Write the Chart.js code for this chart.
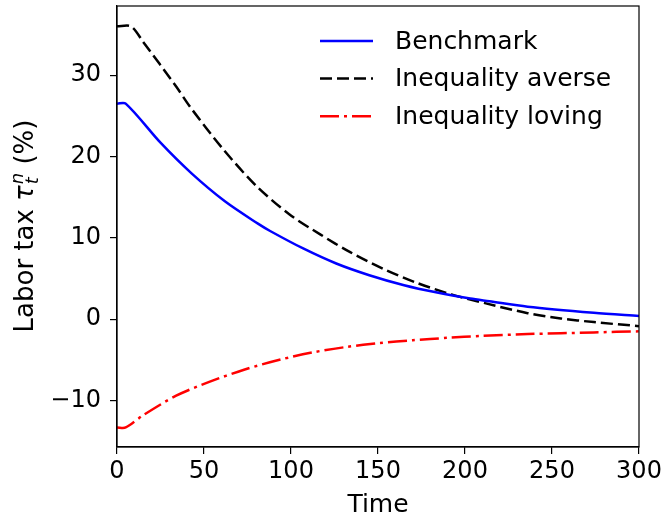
<!DOCTYPE html>
<html>
<head>
<meta charset="utf-8">
<script src="https://cdn.jsdelivr.net/npm/chart.js@4.4.1/dist/chart.umd.min.js"></script>
<style>
    html, body { margin: 0; padding: 0; background: #fff; }
</style>
</head>
<body>
<canvas id="taxChart" width="666" height="520"></canvas>
<script>
// Values
const benchTime = [0, 5, 25, 43, 62, 81, 88, 107, 126, 145, 165, 184, 203, 214, 236, 274, 300];
const benchTax  = [26.5, 26.5, 21.7, 17.9, 14.5, 11.75, 10.85, 8.7, 6.85, 5.41, 4.18, 3.28, 2.54, 2.21, 1.55, 0.8, 0.4];

const averseTime = [0, 8, 15, 34, 42, 61, 80, 99, 117, 134, 153, 172, 193, 212, 236, 255, 274, 300];
const averseTax  = [36, 36, 34.1, 28.6, 26.1, 20.9, 16.4, 12.9, 10.4, 8.25, 6.2, 4.5, 3.0, 1.95, 0.75, 0.1, -0.35, -0.85];

const lovingTime = [0, 5, 15, 34, 53, 73, 94, 113, 132, 151, 170, 190, 209, 236, 274, 300];
const lovingTax  = [-13.3, -13.3, -11.8, -9.4, -7.7, -6.2, -4.95, -4.05, -3.4, -2.92, -2.58, -2.28, -2.05, -1.82, -1.62, -1.48];

const seriesNames = ['Benchmark', 'Inequality averse', 'Inequality loving'];
const xTicks = [0, 50, 100, 150, 200, 250, 300];
const yTicks = [-10, 0, 10, 20, 30];

const FONT = 'DejaVu Sans';

function toPoints(xs, ys) {
    return xs.map((x, i) => ({ x: x, y: ys[i] }));
}

// Fixed box for each axis, no extra label padding
function fixBox(scale, w, h) {
    if (w !== null) scale.width = w;
    if (h !== null) scale.height = h;
    scale.paddingTop = 0;
    scale.paddingBottom = 0;
    scale.paddingLeft = 0;
    scale.paddingRight = 0;
}

// Top and right spines
const framePlugin = {
    id: 'frame',
    afterDraw(chart) {
        const { ctx, chartArea: a } = chart;
        ctx.save();
        ctx.strokeStyle = '#000';
        ctx.lineWidth = 1.2;
        ctx.strokeRect(a.left, a.top, a.right - a.left, a.bottom - a.top);
        ctx.restore();
    }
};

// Legend inside the plot, no frame
const legendPlugin = {
    id: 'innerLegend',
    afterDatasetsDraw(chart) {
        const ctx = chart.ctx;
        ctx.save();
        chart.data.datasets.forEach((ds, i) => {
            const y = 41 + i * 37.6;
            ctx.strokeStyle = ds.borderColor;
            ctx.lineWidth = ds.borderWidth;
            ctx.setLineDash(ds.borderDash || []);
            ctx.beginPath();
            ctx.moveTo(320, y);
            ctx.lineTo(373, y);
            ctx.stroke();
            ctx.setLineDash([]);
            ctx.fillStyle = '#000';
            ctx.font = '25px ' + FONT;
            ctx.textBaseline = 'middle';
            ctx.fillText(ds.label, 395, y + 1);
        });
        ctx.restore();
    }
};

// Y axis title with tau, subscript t and superscript n
const yTitlePlugin = {
    id: 'yTitle',
    afterDraw(chart) {
        const ctx = chart.ctx;
        const big = '26px ' + FONT;
        const bigIt = 'oblique 26px ' + FONT;
        const small = 'oblique 18px ' + FONT;
        ctx.save();
        ctx.font = big;
        const w1 = ctx.measureText('Labor tax ').width;
        const w3 = ctx.measureText(' (%)').width;
        ctx.font = bigIt;
        const wTau = ctx.measureText('\u03C4').width;
        ctx.font = small;
        const wScr = Math.max(ctx.measureText('t').width, ctx.measureText('n').width) + 1;
        const total = w1 + wTau + wScr + w3;

        ctx.translate(33, 226);
        ctx.rotate(-Math.PI / 2);
        ctx.fillStyle = '#000';
        ctx.textBaseline = 'alphabetic';
        let x = -total / 2;
        ctx.font = big;
        ctx.fillText('Labor tax ', x, 0);
        x += w1;
        ctx.font = bigIt;
        ctx.fillText('\u03C4', x, 0);
        x += wTau;
        ctx.font = small;
        ctx.fillText('n', x + 1, -10);
        ctx.fillText('t', x + 1, 5);
        x += wScr;
        ctx.font = big;
        ctx.fillText(' (%)', x, 0);
        ctx.restore();
    }
};

const lineStyles = [
    { color: '#0000ff', dash: [] },
    { color: '#000000', dash: [12, 5] },
    { color: '#ff0000', dash: [19, 5, 3, 5] }
];

const seriesData = [
    toPoints(benchTime, benchTax),
    toPoints(averseTime, averseTax),
    toPoints(lovingTime, lovingTax)
];

new Chart(document.getElementById('taxChart').getContext('2d'), {
    type: 'line',
    data: {
        datasets: seriesData.map((pts, i) => ({
            label: seriesNames[i],
            data: pts,
            borderColor: lineStyles[i].color,
            borderDash: lineStyles[i].dash,
            borderWidth: 2.5,
            pointRadius: 0,
            fill: false,
            tension: 0.3
        }))
    },
    options: {
        responsive: false,
        animation: false,
        devicePixelRatio: 1,
        layout: { padding: { left: 0, right: 27, top: 6, bottom: 0 } },
        plugins: {
            legend: { display: false },
            tooltip: { enabled: false }
        },
        scales: {
            x: {
                type: 'linear',
                min: 0,
                max: 300,
                afterBuildTicks: scale => { scale.ticks = xTicks.map(v => ({ value: v })); },
                afterFit: scale => fixBox(scale, null, 73),
                ticks: {
                    color: '#000',
                    font: { family: FONT, size: 24 },
                    padding: 3,
                    maxRotation: 0
                },
                grid: {
                    drawOnChartArea: false,
                    drawTicks: true,
                    tickLength: 7,
                    color: '#000',
                    lineWidth: 1.2
                },
                border: { display: true, color: '#000', width: 1.2 },
                title: {
                    display: true,
                    text: 'Time',
                    color: '#000',
                    font: { family: FONT, size: 25 },
                    padding: { top: 0, bottom: 0 }
                }
            },
            y: {
                type: 'linear',
                min: -15.7,
                max: 38.5,
                afterBuildTicks: scale => { scale.ticks = yTicks.map(v => ({ value: v })); },
                afterFit: scale => fixBox(scale, 117, null),
                ticks: {
                    color: '#000',
                    font: { family: FONT, size: 24 },
                    padding: 9,
                    callback: v => (v < 0 ? '\u2212' : '') + Math.abs(v)
                },
                grid: {
                    drawOnChartArea: false,
                    drawTicks: true,
                    tickLength: 7,
                    color: '#000',
                    lineWidth: 1.2
                },
                border: { display: true, color: '#000', width: 1.2 }
            }
        }
    },
    plugins: [framePlugin, legendPlugin, yTitlePlugin]
});
</script>
</body>
</html>
